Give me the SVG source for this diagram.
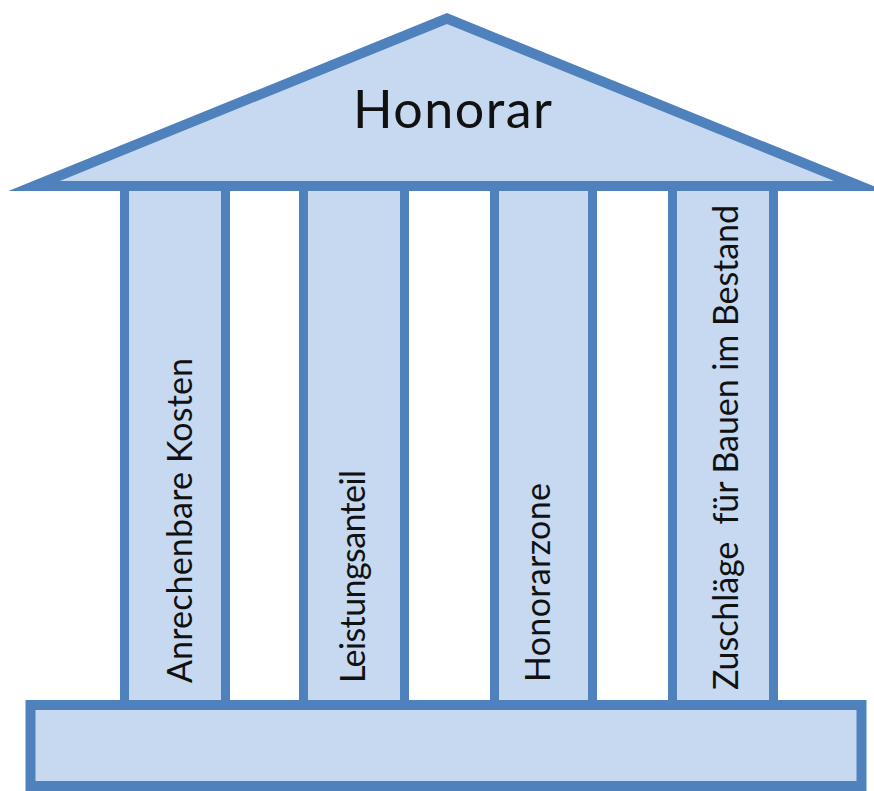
<svg xmlns="http://www.w3.org/2000/svg" width="874" height="791" viewBox="0 0 874 791">
  <style>
    .part { fill: #c6d9f1; stroke: #4f81bd; }
    .col { stroke-width: 9; }
    .label { font-family: Lato, "Open Sans", "Liberation Sans", sans-serif; fill: #111111; }
    .pillar-text { font-size: 34px; }
    .title { font-size: 52px; }
  </style>
  <rect width="874" height="791" fill="#ffffff"/>

  <!-- pillars: drawn first so roof and plinth overlap their ends -->
  <g id="column-1">
    <rect class="part col" x="124.5" y="186" width="101" height="519"/>
    <text class="label pillar-text" transform="translate(192,683) rotate(-90)" textLength="325">Anrechenbare Kosten</text>
  </g>
  <g id="column-2">
    <rect class="part col" x="303.5" y="186" width="101" height="519"/>
    <text class="label pillar-text" transform="translate(365,683) rotate(-90)" textLength="213">Leistungsanteil</text>
  </g>
  <g id="column-3">
    <rect class="part col" x="494.5" y="186" width="98" height="519"/>
    <text class="label pillar-text" transform="translate(550,682) rotate(-90)" textLength="199">Honorarzone</text>
  </g>
  <g id="column-4">
    <rect class="part col" x="672.5" y="186" width="101" height="519"/>
    <text class="label pillar-text" transform="translate(738,690) rotate(-90)" textLength="485">Zuschläge&#160; für Bauen im Bestand</text>
  </g>

  <!-- gable roof -->
  <g id="roof">
    <polygon class="part" points="447,18.5 34,186 860,186" stroke-width="10" stroke-linejoin="miter" stroke-miterlimit="10"/>
    <text class="label title" x="452.5" y="128" text-anchor="middle" textLength="199">Honorar</text>
  </g>

  <!-- plinth -->
  <g id="base">
    <rect class="part" x="30.5" y="705" width="831" height="81" stroke-width="10"/>
  </g>
</svg>
